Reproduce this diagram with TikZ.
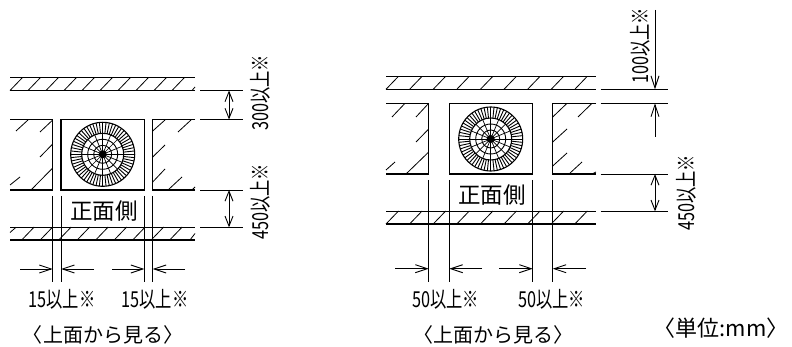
\documentclass[tikz,border=0pt]{standalone}
\usepackage{fontspec}
\usetikzlibrary{arrows.meta}
\newfontfamily\jpfont{Noto Sans CJK JP}
\newfontfamily\jpnarrow[FakeStretch=0.74]{Noto Sans CJK JP}

\tikzset{
  wall/.style={line width=1.1pt},
  thin line/.style={line width=0.8pt},
  dim/.style={line width=0.9pt,{Straight Barb[length=10pt,width=8pt,line width=0.9pt]}-{Straight Barb[length=10pt,width=8pt,line width=0.9pt]}},
  dim end/.style={line width=0.9pt,-{Straight Barb[length=12pt,width=8pt,line width=0.9pt]}},
  size label/.style={inner sep=0pt,font=\jpnarrow\fontsize{22}{22}\selectfont},
  vert label/.style={size label,rotate=90},
  view label/.style={inner sep=0pt,font=\jpfont\fontsize{20}{20}\selectfont},
  front label/.style={inner sep=0pt,font=\jpfont\fontsize{22.5}{23}\selectfont},
  unit label/.style={inner sep=0pt,font=\jpfont\fontsize{22}{22}\selectfont},
  fanwheel/.pic={
    \draw[line width=1.1pt] (0,0) circle (32) circle (21);
    \draw[line width=0.9pt] (0,0) circle (15) circle (9);
    \foreach \a in {0,6,...,354} \draw[line width=0.9pt] (\a:21) -- (\a:32);
    \foreach \a in {0,22.5,...,337.5} \draw[line width=0.7pt] (\a:0) -- (\a:21);
    \fill (0,0) circle (4);
  },
}

% one block of hatching: left end, bottom of wall, pitch, count
\newcommand{\wallhatch}[4]{
  \foreach \k in {1,...,#4}
    \draw[thin line] ({#1+(\k-1)*#3},#2) -- ++(12.5,-13);
}

\begin{document}
\begin{tikzpicture}[x=1pt,y=-1pt]
\useasboundingbox (0,0) rectangle (792,347);

%%% left view
\draw[wall] (10,77.5) -- (195,77.5) (10,90.5) -- (195,90.5);
\draw[wall] (10,227.3) -- (195,227.3) (10,240) -- (195,240);
\wallhatch{10}{90.5}{18}{10}
\draw[thin line] (192,90.5) -- (195,87);
\wallhatch{21.7}{240}{18.5}{9}
\draw[thin line] (10,232.5) -- (16,227.3) (190,240) -- (195,233.5);

\draw[wall] (10,119.5) -- (52.7,119.5) -- (52.7,190) -- (10,190);
\draw[wall] (195,119.5) -- (152.7,119.5) -- (152.7,190) -- (195,190);
\draw[wall] (61,119.5) rectangle (144.3,190);
\pic at (102.7,154.3) {fanwheel};
\foreach \xa/\ya/\xb/\yb in {16/131/28/120,40/132/52.7/120,40/157/52.7/144,10/185/20/177,31/190/52.7/168,
  152.7/131/165/120,178/132/191/120,152.7/157/165/145,152.7/182/165/169,168/190/182/177,192/190/195/187}
  \draw[thin line] (\xa,\ya) -- (\xb,\yb);
\foreach \x in {52.7,61,144.3,152.7}
  \draw[thin line] (\x,196) -- (\x,282);

\node[front label] (frontA) at (104,211) {正面側};

% vertical clearances
\foreach \y/\n in {90.5/a,119.5/b,190/c,227.3/d}{
  \coordinate (l\n) at (200,\y);
  \coordinate (r\n) at (243,\y);
  \coordinate (m\n) at (229,\y);
  \draw[thin line] (l\n) -- (r\n);
}
\draw[dim] (ma) -- (mb);
\draw[dim] (mc) -- (md);
\node[vert label] (gapA) at (260,93) {300以上※};
\node[vert label] (gapB) at (260,202) {450以上※};

% horizontal clearances
\foreach \xa/\xb in {20/52.7,94/61,112/144.3,185/152.7}
  \draw[dim end] (\xa,269) -- (\xb,269);
\node[size label] (sideA) at (62,299) {15以上※};
\node[size label] (sideB) at (155,299) {15以上※};
\node[view label] (viewA) at (103,335) {〈上面から見る〉};

%%% right view
\draw[wall] (386,76.7) -- (596,76.7) (386,89.3) -- (596,89.3);
\draw[wall] (386,211.3) -- (596,211.3) (386,224) -- (596,224);
\wallhatch{386}{89.3}{23.6}{9}
\wallhatch{386}{224}{23.6}{9}

\draw[wall] (386,103.3) -- (428.7,103.3) -- (428.7,174) -- (386,174);
\draw[wall] (596,103.3) -- (552.7,103.3) -- (552.7,174) -- (596,174);
\draw[wall] (449.3,103.3) rectangle (532.7,174);
\pic at (490.7,139) {fanwheel};
\foreach \xa/\ya/\xb/\yb in {392/117/405/103.3,416/117/428.7/103.3,416/142/428.7/129,386/170/395/162,406/174/428.7/152,
  552.7/117/567/103.3,578/117/592/103.3,552.7/142/567/129,552.7/166/567/153,569/174/582/162,592/174/596/172}
  \draw[thin line] (\xa,\ya) -- (\xb,\yb);
\foreach \x in {428.7,449.3,532.7,552.7}
  \draw[thin line] (\x,180) -- (\x,282);

\node[front label] (frontB) at (492,195) {正面側};

\foreach \y/\n in {89.3/e,103.3/f,174/g,211.3/h}{
  \coordinate (l\n) at (600.7,\y);
  \coordinate (r\n) at (668,\y);
  \coordinate (m\n) at (655,\y);
  \draw[thin line] (l\n) -- (r\n);
}
\coordinate (topfree) at (655,10);
\coordinate (lowfree) at (655,137);
\draw[dim end] (topfree) -- (me);
\draw[dim end] (lowfree) -- (mf);
\draw[dim] (mg) -- (mh);
\node[vert label] (gapC) at (640,46) {100以上※};
\node[vert label] (gapD) at (686,193) {450以上※};

\foreach \xa/\xb in {395/428.7,482/449.3,499/532.7,586/552.7}
  \draw[dim end] (\xa,268.7) -- (\xb,268.7);
\node[size label] (sideC) at (445.5,299) {50以上※};
\node[size label] (sideD) at (551.5,299) {50以上※};
\node[view label] (viewB) at (493,335) {〈上面から見る〉};
\node[unit label] (unitA) at (721,328) {〈単位:mm〉};
\end{tikzpicture}
\end{document}
